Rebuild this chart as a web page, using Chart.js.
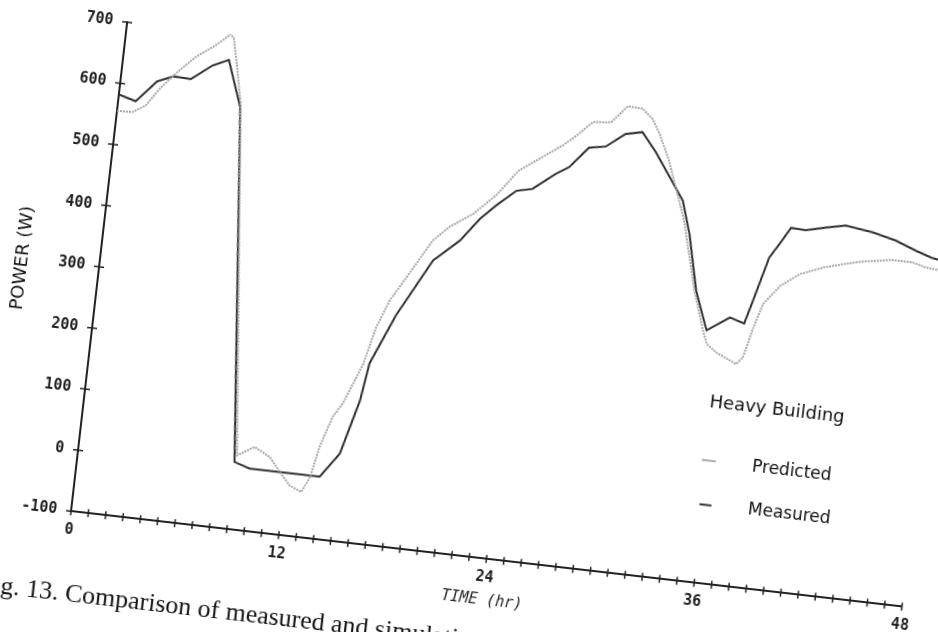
<!DOCTYPE html>
<html>
<head>
<meta charset="utf-8">
<script src="https://cdn.jsdelivr.net/npm/chart.js@4.4.0/dist/chart.umd.min.js"></script>
<style>
  html, body { margin: 0; padding: 0; background: #fff; }
  body { width: 938px; height: 632px; overflow: hidden; position: relative; }
  /* the scanned figure is tilted, so the whole chart is turned about its origin */
  #wrap {
    position: absolute; left: -29px; top: -21.3px;
    width: 1000px; height: 603px;
    transform-origin: 100px 532.3px;
    transform: rotate(6.55deg);
  }
  #caption {
    position: absolute; left: -22px; top: 570.2px;
    font: 26px "Liberation Serif", serif; line-height: 26px;
    color: #151515; white-space: nowrap;
    transform-origin: 0 21.8px;
    transform: rotate(6.55deg);
  }
</style>
</head>
<body>
<div id="wrap"><canvas id="chart" width="1000" height="603"></canvas></div>
<div id="caption">Fig. 13. Comparison of measured and simulation</div>
<script>
// values (hours, watts)
const measuredHours = [0, 1, 2.1, 3, 4, 5.15, 6.05, 7, 9, 9.9, 11.65, 13.95, 14.95, 15.75, 16.05, 17.25, 19, 20.4, 21.4, 22.25,
    23.3, 24.2, 25.45, 26.15, 27.15, 28.1, 29.15, 30.1, 31, 32.85, 33.45, 34.2, 35.05, 36.3, 37.15, 37.5, 38.15, 38.65, 39.2, 40.05,
    41.2, 42.3, 43.9, 45.25, 46.5, 47.4, 48];
const measuredPower = [582, 574, 610, 621, 620, 646, 658, 584, 10, 2, 2, 2, 43, 132, 194, 277, 372, 409, 448, 473,
    500, 506, 535, 548, 583, 588, 612, 618, 588, 515, 462, 372, 310, 335, 328, 366, 439, 463, 491, 490,
    498, 505, 499, 490, 477, 469, 466];

const predictedHours = [0, 0.9, 1.6, 2.3, 3.1, 4.15, 5.2, 6, 6.2, 6.6, 7, 9.1, 10.05, 11, 11.65, 12.3, 13, 13.4, 13.75, 14.3,
    14.8, 15.7, 16.2, 16.8, 17.6, 18.85, 19.7, 21, 22.2, 23.3, 24.4, 25.65, 26.5, 27.2, 28.25, 29.1, 29.95, 30.6, 31.1, 31.8,
    33.05, 34.1, 34.85, 35.15, 35.75, 36.95, 37.3, 37.7, 38.1, 38.95, 40, 41.3, 42.4, 43.5, 45.2, 46.35, 47.15, 48];
const predictedPower = [555, 556, 569, 599, 626, 657, 679, 700, 693, 643, 590, 21, 38, 24, 2, -18, -26, -1, 50, 101,
    125, 192, 254, 300, 340, 404, 429, 455, 490, 533, 556, 582, 604, 625, 628, 657, 656, 641, 618, 577,
    483, 372, 309, 288, 276, 261, 273, 323, 363, 395, 418, 433, 442, 450, 458, 458, 452, 450];

const xLabelEvery = 12;
const yTickStep = 100;

const toPoints = (xs, ys) => xs.map((x, i) => ({ x: x, y: ys[i] }));

// crossing tick marks on both axes, like the plotter output
const crossTicks = {
    id: 'crossTicks',
    afterDraw(chart) {
        const ctx = chart.ctx;
        const xs = chart.scales.x, ys = chart.scales.y;
        const a = chart.chartArea;
        ctx.save();
        ctx.strokeStyle = '#222';
        ctx.lineWidth = 1.5;
        ctx.beginPath();
        xs.ticks.forEach(t => {
            const px = xs.getPixelForValue(t.value);
            ctx.moveTo(px, a.bottom - 4);
            ctx.lineTo(px, a.bottom + 4);
        });
        ys.ticks.forEach(t => {
            const py = ys.getPixelForValue(t.value);
            ctx.moveTo(a.left - 5, py);
            ctx.lineTo(a.left + 5, py);
        });
        ctx.stroke();
        ctx.restore();
    }
};

// legend block sitting inside the plot
const legendBlock = {
    id: 'legendBlock',
    afterDraw(chart) {
        const ctx = chart.ctx;
        const xs = chart.scales.x, ys = chart.scales.y;
        const X = v => xs.getPixelForValue(v), Y = v => ys.getPixelForValue(v);
        ctx.save();
        ctx.fillStyle = '#111';
        ctx.textAlign = 'left';
        ctx.textBaseline = 'middle';
        ctx.font = '18px "DejaVu Sans"';
        ctx.fillText('Heavy Building', X(35.7), Y(194));
        ctx.font = '17px "DejaVu Sans"';
        ctx.fillText('Predicted', X(38.54), Y(97));
        ctx.fillText('Measured', X(38.58), Y(28));

        ctx.lineWidth = 2;
        ctx.strokeStyle = '#aaa';
        ctx.beginPath();
        ctx.moveTo(X(36.03) - 7, Y(100));
        ctx.lineTo(X(36.03) + 7, Y(100));
        ctx.stroke();
        ctx.strokeStyle = '#333';
        ctx.beginPath();
        ctx.moveTo(X(36.13) - 6, Y(28));
        ctx.lineTo(X(36.13) + 6, Y(28));
        ctx.stroke();
        ctx.restore();
    }
};

const ctx = document.getElementById('chart').getContext('2d');
const chart = new Chart(ctx, {
    type: 'line',
    data: {
        datasets: [{
            label: 'Predicted',
            data: toPoints(predictedHours, predictedPower),
            borderColor: '#a6a6a6',
            borderWidth: 2,
            borderDash: [2, 1],
            pointRadius: 0,
            tension: 0
        }, {
            label: 'Measured',
            data: toPoints(measuredHours, measuredPower),
            borderColor: '#2e2e2e',
            borderWidth: 2,
            pointRadius: 0,
            tension: 0
        }]
    },
    options: {
        responsive: false,
        animation: false,
        layout: { padding: { top: 40, right: 63.6, left: 0, bottom: 0 }, autoPadding: false },
        plugins: { legend: { display: false }, tooltip: { enabled: false } },
        scales: {
            x: {
                type: 'linear',
                min: 0,
                max: 48,
                grid: { display: false, drawTicks: false },
                border: { display: true, color: '#222', width: 2 },
                ticks: {
                    stepSize: 1,
                    autoSkip: false,
                    maxRotation: 0,
                    padding: 10,
                    color: '#222',
                    font: { family: 'DejaVu Sans Mono', size: 15, weight: 'bold' },
                    callback: v => (v % xLabelEvery === 0 ? String(v) : '')
                },
                title: {
                    display: true,
                    text: 'TIME (hr)',
                    color: '#222',
                    font: { family: 'DejaVu Sans Mono', size: 15, style: 'italic' },
                    padding: { top: 0, bottom: 20.2 }
                },
                afterFit: s => { s.height = 70.7; }
            },
            y: {
                min: -100,
                max: 700,
                grid: { display: false, drawTicks: false },
                border: { display: true, color: '#222', width: 2 },
                ticks: {
                    stepSize: yTickStep,
                    padding: 14,
                    color: '#222',
                    font: { family: 'DejaVu Sans Mono', size: 15, weight: 'bold' }
                },
                title: {
                    display: true,
                    text: 'POWER (W)',
                    color: '#111',
                    font: { family: 'DejaVu Sans', size: 18 },
                    padding: { top: 12.2, bottom: 0 }
                },
                afterFit: s => { s.width = 100; }
            }
        }
    },
    plugins: [crossTicks, legendBlock]
});
</script>
</body>
</html>
